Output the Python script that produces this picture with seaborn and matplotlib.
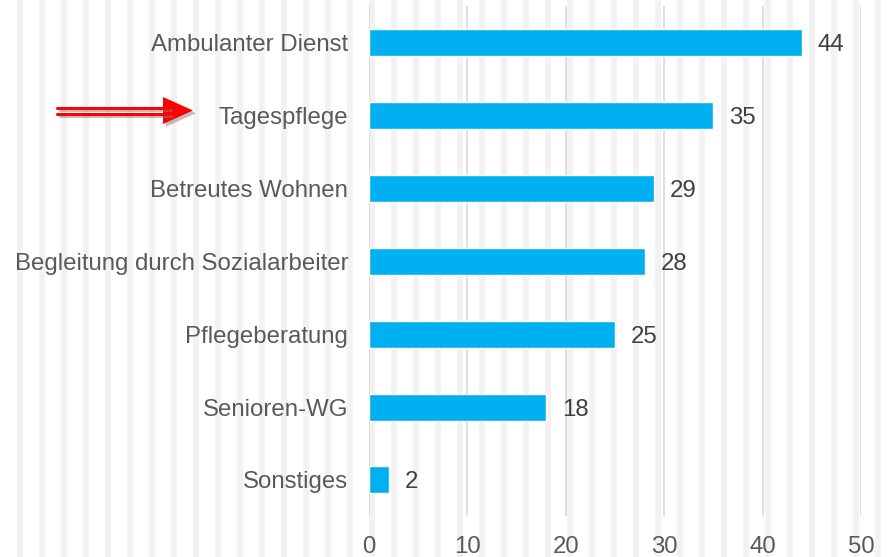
import matplotlib
matplotlib.use("Agg")
import matplotlib.pyplot as plt
import matplotlib.patheffects as pe
from matplotlib.patches import Polygon
from matplotlib.lines import Line2D
import seaborn as sns
import pandas as pd

categories = ["Ambulanter Dienst", "Tagespflege", "Betreutes Wohnen",
              "Begleitung durch Sozialarbeiter", "Pflegeberatung",
              "Senioren-WG", "Sonstiges"]
values = [44, 35, 29, 28, 25, 18, 2]
xticks = [0, 10, 20, 30, 40, 50]

df = pd.DataFrame({"cat": categories, "val": values})

sns.set_theme(style="white")
plt.rcParams['font.family'] = ['Liberation Sans', 'DejaVu Sans']

W, H = 891, 557
fig = plt.figure(figsize=(W / 100, H / 100), dpi=100)
fig.patch.set_facecolor("white")

# background stripes on a full-figure axes behind everything
bg = fig.add_axes([0, 0, 1, 1], zorder=-10)
bg.set_xlim(0, W)
bg.set_ylim(0, H)
bg.axis("off")
k = 0
while 17 + 22 * k < W:
    x0 = 17 + 22 * k
    bg.axvspan(x0, x0 + 6, color="#f2f2f2", linewidth=0)
    k += 1

ax = fig.add_axes([369 / W, (557 - 516.4) / H, 492 / W, 510 / H], zorder=1)
ax.patch.set_alpha(0)
sns.barplot(data=df, x="val", y="cat", color="#00B0F0", width=0.37,
            saturation=1, ax=ax, zorder=3)
ax.set_xlim(0, 50)
ax.set_ylim(6.5, -0.5)
ax.set_xticks(xticks)
ax.set_xlabel("")
ax.set_ylabel("")
for s in ax.spines.values():
    s.set_visible(False)
ax.xaxis.grid(True, color="#d9d9d9", linewidth=1.2, zorder=1)
ax.set_axisbelow(True)
ax.yaxis.grid(False)
ax.tick_params(axis="both", length=0, labelsize=17.3, labelcolor="#595959")
ax.tick_params(axis="x", pad=14)
ax.tick_params(axis="y", pad=15)

for i, v in enumerate(values):
    ax.text(v + 1.6, i, str(v), va="center_baseline", ha="left", fontsize=17.3,
            color="#404040", zorder=4)

# red double arrow pointing to "Tagespflege"
shadow = [pe.SimpleLineShadow(offset=(2, -2), shadow_color="gray", alpha=0.5), pe.Normal()]
for yy in (107.5, 113.5):
    fig.add_artist(Line2D([57 / W, 168 / W], [1 - yy / H, 1 - yy / H],
                          transform=fig.transFigure, color="#ff0000", linewidth=2.2,
                          path_effects=shadow))
tri = Polygon([[163 / W, 1 - 97 / H], [193 / W, 1 - 110.5 / H], [163 / W, 1 - 124 / H]],
              closed=True, transform=fig.transFigure, facecolor="#ff0000",
              edgecolor="none",
              path_effects=[pe.SimplePatchShadow(offset=(2, -2), shadow_rgbFace="gray", alpha=0.5), pe.Normal()])
fig.add_artist(tri)

fig.savefig("out.png", dpi=100)
